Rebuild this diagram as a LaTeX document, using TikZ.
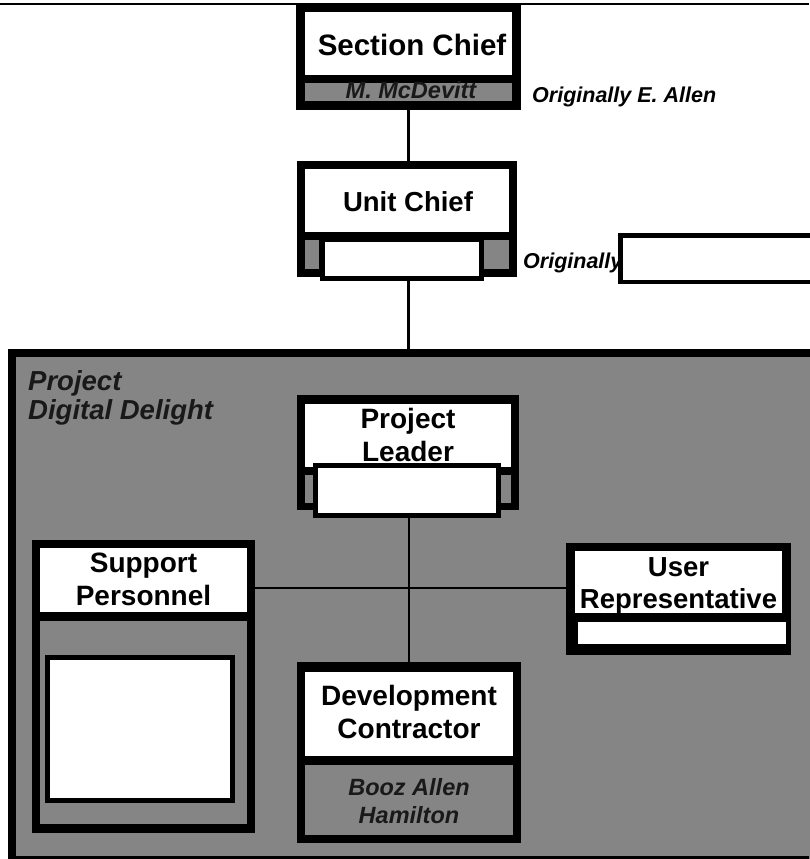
\documentclass[tikz,border=0pt]{standalone}
\usepackage{fontspec}
\setmainfont{Liberation Sans}
\definecolor{shadegray}{gray}{0.52}
\definecolor{shadetext}{gray}{0.1}
\begin{document}
\begin{tikzpicture}[x=1pt,y=-1pt]
\tikzset{
  blk/.style={rectangle, fill=black, draw=none, inner sep=0pt, outer sep=0pt},
  namebox/.style={rectangle, draw=black, fill=white, line width=5pt, inner sep=0pt},
  conn/.style={draw=black, line width=2.4pt},
  title/.style={font=\fontsize{28}{33}\selectfont\bfseries, inner sep=0pt, align=center},
  note/.style={font=\fontsize{21.5}{26}\selectfont\bfseries\itshape, inner sep=0pt, anchor=base west},
  shdtxt/.style={font=\fontsize{23.5}{28}\selectfont\bfseries\itshape, text=shadetext, inner sep=0pt, align=center},
}
\useasboundingbox (0,0) rectangle (809,859);
\fill[white] (0,0) rectangle (809,859);
% top rule
\draw[line width=2.5pt] (0,4) -- (809,4);

% ---------- project region ----------
\node[rectangle, fill=shadegray, draw=none, inner sep=0pt, minimum width=812pt, minimum height=520pt] (proj) at (414,609) {};
\draw[line width=8pt] (12,870) -- (12,353) -- (830,353);
\fill[black] (8,856) rectangle (809,859);
\node[shdtxt, anchor=base west, font=\fontsize{27.5}{29}\selectfont\bfseries\itshape] (projt) at (28,390) {Project};
\node[shdtxt, anchor=base west, font=\fontsize{27.5}{29}\selectfont\bfseries\itshape] (projt2) at (28,419) {Digital Delight};

% ---------- Section Chief ----------
\node[blk, minimum width=225pt, minimum height=105pt] (sc) at (408.5,57.5) {};
\fill[white] (305,12) rectangle (512,75);
\fill[shadegray] (305,83) rectangle (512,101);
\node[title, anchor=base, font=\fontsize{29.5}{33}\selectfont\bfseries] (sct) at (412,56) {Section Chief};
\node[shdtxt, anchor=base] (scn) at (411,99) {M. McDevitt};
\node[note] (sco) at (532,102) {Originally E. Allen};

% ---------- Unit Chief ----------
\node[blk, minimum width=220pt, minimum height=116pt] (uc) at (407,219) {};
\fill[white] (305,169) rectangle (509,232);
\fill[shadegray] (305,240) rectangle (319,269);
\fill[shadegray] (484,240) rectangle (509,269);
\node[namebox, minimum width=159pt, minimum height=39pt] (ucname) at (402,259) {};
\node[title, anchor=base, font=\fontsize{27.5}{33}\selectfont\bfseries] (uct) at (408,211) {Unit Chief};
\node[note] (uco) at (523,268) {Originally};
\node[namebox, line width=4.5pt, minimum width=240pt, minimum height=46.5pt] (ucorig) at (740.5,258.5) {};

% ---------- Project Leader ----------
\node[blk, minimum width=222pt, minimum height=115pt] (pl) at (408,452.5) {};
\fill[white] (305,404) rectangle (511,467);
\node[title] (plt) at (408,434.5) {Project\\Leader};
\fill[shadegray] (305,475) rectangle (313,503);
\fill[shadegray] (501,475) rectangle (511,503);
\node[namebox, minimum width=183pt, minimum height=50pt] (plname) at (407,490.5) {};

% ---------- Support Personnel ----------
\node[blk, minimum width=223pt, minimum height=293pt] (sp) at (143.5,686.5) {};
\fill[white] (40,548) rectangle (247,612);
\fill[shadegray] (40,621) rectangle (247,824);
\node[title] (spt) at (143.5,579.5) {Support\\Personnel};
\node[namebox, minimum width=185pt, minimum height=143pt] (spname) at (140,729) {};

% ---------- User Representative ----------
\node[blk, minimum width=225pt, minimum height=112pt] (ur) at (678.5,599) {};
\fill[white] (575,551) rectangle (782,613);
\fill[white] (578,622) rectangle (786,644);
\node[title, font=\fontsize{27.5}{32}\selectfont\bfseries] (urt) at (678.5,585.5) {User\\Representative};

% ---------- Development Contractor ----------
\node[blk, minimum width=224pt, minimum height=181pt] (dc) at (409,752.5) {};
\fill[white] (305,672) rectangle (513,756);
\fill[shadegray] (305,765) rectangle (513,835);
\node[title] (dct) at (409,711.5) {Development\\Contractor};
\node[shdtxt] (dcn) at (409,800.6) {Booz Allen\\Hamilton};

% ---------- connectors ----------
\coordinate (hj) at (409,588);
\draw[conn] (sc.south) -- (sc.south |- uc.north);
\draw[conn] (ucname.south -| 408.5,0) -- (408.5,349);
\draw[conn] (plname.south -| hj) -- (hj |- dc.north);
\draw[conn] (sp.east |- hj) -- (ur.west |- hj);
\end{tikzpicture}
\end{document}
